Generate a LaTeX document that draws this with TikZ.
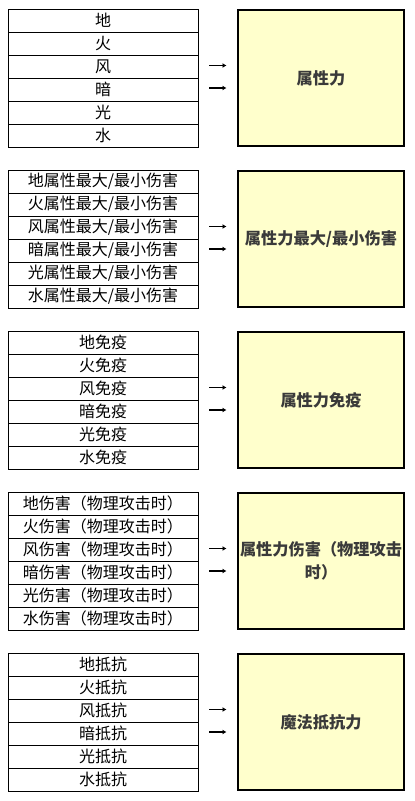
\documentclass[tikz,border=0pt]{standalone}
\usepackage{fontspec}
\setmainfont{Noto Sans CJK SC}
\usetikzlibrary{arrows.meta}
\definecolor{boxfill}{HTML}{FFFFCC}
\definecolor{boxtext}{HTML}{3A3A3A}
\tikzset{
  cell/.style={draw=black, line width=1pt, minimum width=190pt, minimum height=23pt, inner sep=0pt, font=\fontsize{16pt}{18pt}\selectfont, text=black},
  bigbox/.style={draw=black, line width=2.6pt, fill=boxfill, minimum width=166pt, minimum height=136pt, inner sep=0pt, align=center, font=\fontsize{16.2pt}{23pt}\selectfont\bfseries, text=boxtext},
  arr/.style={line width=1.4pt, -{Latex[length=4pt,width=5pt]}}
}
\newcommand\mygroup[3]{%
  \pgfmathsetmacro\yz{9+161*#1}
  \foreach \i/\e in {0/地,1/火,2/风,3/暗,4/光,5/水}{
    \node[cell] (g#1r\i) at (103, \yz+11.5+23*\i) {\e#2};
  }
  \node[bigbox] (g#1box) at (321, \yz+69) {#3};
  \coordinate (g#1a1) at (209, \yz+56.5);
  \coordinate (g#1b1) at (226.5, \yz+56.5);
  \coordinate (g#1a2) at (209, \yz+79);
  \coordinate (g#1b2) at (226.5, \yz+79);
  \draw[arr] (g#1a1) -- (g#1b1);
  \draw[arr] (g#1a2) -- (g#1b2);
}
\begin{document}
\begin{tikzpicture}[x=1pt, y=-1pt]
\useasboundingbox (0,0) rectangle (415,801);
\fill[white] (0,0) rectangle (415,801);
\mygroup{0}{}{属性力}
\mygroup{1}{属性最大/最小伤害}{属性力最大/最小伤害}
\mygroup{2}{免疫}{属性力免疫}
\mygroup{3}{伤害（物理攻击时）}{属性力伤害（物理攻击\\时）}
\mygroup{4}{抵抗}{魔法抵抗力}
\end{tikzpicture}
\end{document}
